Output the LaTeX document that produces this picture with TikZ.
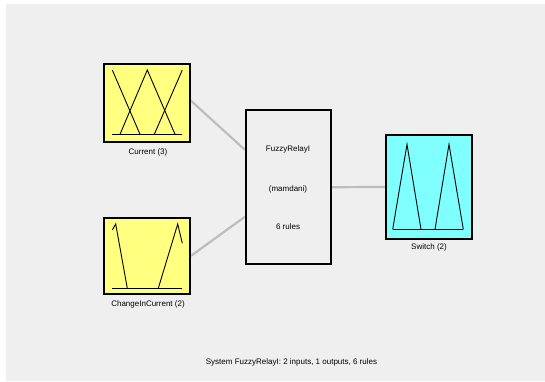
\documentclass[tikz,border=0pt]{standalone}
\usepackage{fontspec}
\setmainfont{Liberation Sans}
\usetikzlibrary{calc}
\definecolor{bggray}{HTML}{EFEFEF}
\definecolor{mfyellow}{HTML}{FFFF80}
\definecolor{mfcyan}{HTML}{80FFFF}
\definecolor{linkgray}{HTML}{BDBDBD}
\tikzset{
  varbox/.style={draw=black, line width=1.6pt, inner sep=0pt},
  fisbox/.style={draw=black, line width=1.6pt, fill=bggray, inner sep=0pt, minimum width=85pt, minimum height=154pt},
  mf/.style={draw=black, line width=0.9pt},
  link/.style={draw=linkgray, line width=2.2pt},
  lbl/.style={font=\fontsize{8}{9}\selectfont, inner sep=0pt},
}
\begin{document}
\begin{tikzpicture}[x=1pt,y=-1pt]
\useasboundingbox (0,0) rectangle (545,382);
\fill[white] (0,0) rectangle (545,382);
\fill[bggray] (6,4) rectangle (545,381);

% boxes
\node[varbox, fill=mfyellow, minimum width=86pt, minimum height=78pt] (cur) at (147,103) {};
\node[varbox, fill=mfyellow, minimum width=86pt, minimum height=76pt] (chg) at (147,256) {};
\node[varbox, fill=mfcyan, minimum width=86pt, minimum height=104pt] (sw) at (428.7,187) {};
\node[fisbox] (fis) at (288.2,187.2) {};

% connectors
\coordinate (in1) at ($(fis.north west)!0.26!(fis.south west)$);
\coordinate (in2) at ($(fis.north west)!0.69!(fis.south west)$);
\coordinate (o1) at ($(cur.north east)!0.47!(cur.south east)$);
\draw[link] (o1) -- (in1);
\draw[link] ($(chg.north east)!0.5!(chg.south east)$) -- (in2);
\draw[link] (fis.east) -- (sw.west);
% redraw box borders on top
\node[varbox, minimum width=86pt, minimum height=78pt] at (cur) {};
\node[varbox, minimum width=86pt, minimum height=76pt] at (chg) {};
\node[varbox, minimum width=86pt, minimum height=104pt] at (sw) {};
\node[fisbox, fill=none] at (fis) {};

% Current MFs
\draw[mf] (112.3,134.3) -- (182.3,134.3);
\draw[mf] (112.3,70) -- (140,134.3);
\draw[mf] (120,134.3) -- (147.3,70) -- (175,134.3);
\draw[mf] (154.3,134.3) -- (182.3,70);

% ChangeInCurrent MFs
\draw[mf] (112.3,288.3) -- (182.3,288.3);
\draw[mf] (112.3,230) -- (115.7,224) -- (127.3,288.3);
\draw[mf] (158.3,288.3) -- (177.7,224) -- (182.3,243.3);

% Switch MFs
\draw[mf] (392.7,229.3) -- (463.3,229.3);
\draw[mf] (392.7,229.3) -- (407,144.3) -- (421,229.3);
\draw[mf] (435,229.3) -- (449,144.3) -- (463.3,229.3);

% labels
\node[lbl] (curlbl) at (148,152) {Current (3)};
\node[lbl] (chglbl) at (148,304) {ChangeInCurrent (2)};
\node[lbl] (swlbl) at (429,247) {Switch (2)};
\node[lbl] (fisname) at (288,149.3) {FuzzyRelayI};
\node[lbl] (fistype) at (288,189) {(mamdani)};
\node[lbl] (fisrules) at (288,227) {6 rules};
\node[lbl] (sys) at (291.5,362.5) {System FuzzyRelayI: 2 inputs, 1 outputs, 6 rules};
\end{tikzpicture}
\end{document}
